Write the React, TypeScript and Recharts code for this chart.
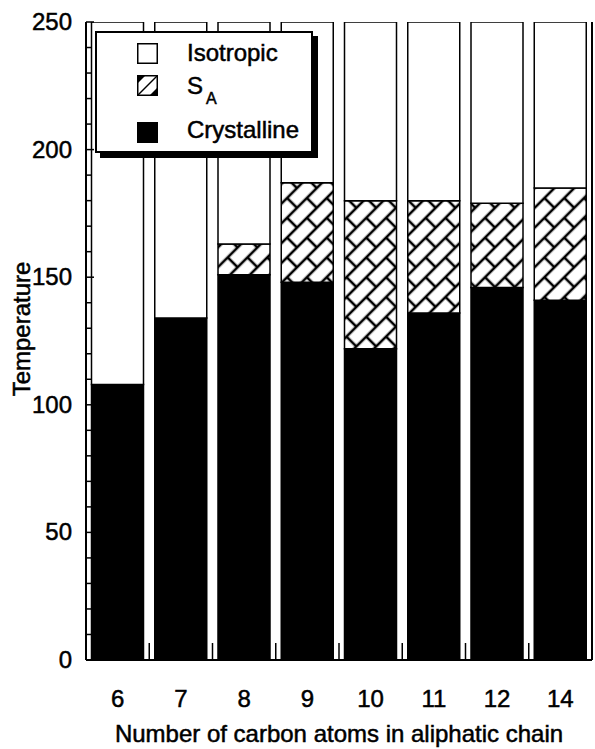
import React from 'react';
import { BarChart, Bar, XAxis, YAxis, Legend } from 'recharts';

// chain length (number of carbon atoms)
const carbons = ['6', '7', '8', '9', '10', '11', '12', '14'];
// melting point (crystalline -> SA or isotropic)
const crystalline = [108, 134, 151, 148, 122, 136, 146, 141];
// clearing point (SA -> isotropic)
const clearing = [108, 134, 163, 187, 180, 180, 179, 185];
const tempMax = 250;
const majorTicks = [0, 50, 100, 150, 200, 250];
const allTicks = [0, 10, 20, 30, 40, 50, 60, 70, 80, 90, 100, 110, 120, 130, 140, 150, 160, 170, 180, 190, 200, 210, 220, 230, 240, 250];

const data = carbons.map((c, i) => ({
  carbons: c,
  crystalline: crystalline[i],
  sa: clearing[i] - crystalline[i],
  iso: tempMax - clearing[i],
}));

const FONT = '"Liberation Sans", Arial, Helvetica, sans-serif';
const INK = '#000';
const FS = 24;

const LeftTick = (props: any) => {
  const { x, y, payload } = props;
  const major = majorTicks.includes(payload.value);
  return (
    <g>
      <line x1={x} x2={x + (major ? 8 : 5)} y1={y} y2={y} stroke={INK} strokeWidth={1.5} />
      {major && (
        <text x={x - 14} y={y} dy={8} textAnchor="end" fontSize={FS} fontFamily={FONT} fill={INK} stroke={INK} strokeWidth={0.5}>
          {payload.value}
        </text>
      )}
    </g>
  );
};

const RightTick = (props: any) => {
  const { x, y } = props;
  return <line x1={x} x2={x + 3} y1={y} y2={y} stroke={INK} strokeWidth={1.5} />;
};

const halfBand = (props: any) => {
  if (props.payload && typeof props.payload.offset === 'number' && props.payload.offset > 0) return props.payload.offset;
  return props.width / carbons.length / 2;
};

const BottomTick = (props: any) => {
  const { x, y, payload, index } = props;
  const h = halfBand(props);
  return (
    <g>
      {index < carbons.length - 1 && (
        <line x1={x + h} x2={x + h} y1={y} y2={y - 17} stroke={INK} strokeWidth={1.5} />
      )}
      <text x={x} y={y + 47} textAnchor="middle" fontSize={FS} fontFamily={FONT} fill={INK} stroke={INK} strokeWidth={0.5}>
        {payload.value}
      </text>
    </g>
  );
};

const TopTick = (props: any) => {
  const { x, y, index } = props;
  const h = halfBand(props);
  if (index >= carbons.length - 1) return <g />;
  return <line x1={x + h} x2={x + h} y1={y} y2={y + 15} stroke={INK} strokeWidth={2} />;
};

const YTitle = (props: any) => {
  const vb = props.viewBox || { y: 22, height: 638 };
  const cx = 21;
  const cy = vb.y + vb.height / 2 - 12;
  return (
    <text x={cx} y={cy} transform={`rotate(-90 ${cx} ${cy})`} textAnchor="middle" dominantBaseline="central"
      fontSize={FS} fontFamily={FONT} fill={INK} stroke={INK} strokeWidth={0.5}>
      Temperature
    </text>
  );
};

const LegendBox = () => {
  const row = {
    position: 'absolute' as const, left: 90, fontSize: FS, fontFamily: FONT, color: INK, lineHeight: '24px',
    WebkitTextStroke: '0.5px #000', whiteSpace: 'nowrap' as const,
  };
  const sq = { position: 'absolute' as const, left: 40, width: 21, height: 21 };
  return (
    <div style={{ position: 'relative', width: 214, height: 118, background: '#fff', border: '2px solid #000', boxShadow: '5px 5px 0 #000' }}>
      <svg style={{ ...sq, top: 10 }} width={21} height={21}>
        <rect x={0.75} y={0.75} width={19.5} height={19.5} fill="#fff" stroke={INK} strokeWidth={1.5} />
      </svg>
      <div style={{ ...row, top: 8 }}>Isotropic</div>
      <svg style={{ ...sq, top: 42 }} width={21} height={21}>
        <rect x={0.75} y={0.75} width={19.5} height={19.5} fill="#fff" stroke={INK} strokeWidth={1.5} />
        <line x1={1} y1={20} x2={20} y2={1} stroke={INK} strokeWidth={1.5} />
        <path d="M1 1 L8 1 L1 8 Z" fill={INK} />
        <path d="M20 20 L13 20 L20 13 Z" fill={INK} />
      </svg>
      <div style={{ ...row, top: 41 }}>
        S<span style={{ fontSize: 16, position: 'relative', top: 10, left: 3 }}>A</span>
      </div>
      <div style={{ ...sq, top: 89, background: INK }} />
      <div style={{ ...row, top: 85 }}>Crystalline</div>
    </div>
  );
};

export default function App() {
  return (
    <div style={{ position: 'absolute', left: 0, top: 0, background: '#fff' }}>
      <BarChart width={595} height={749} data={data} margin={{ top: 22, right: 0, bottom: 0, left: 0 }} barCategoryGap={5.5}>
        <defs>
          <pattern id="smectic" patternUnits="userSpaceOnUse" width={28} height={28} patternTransform="rotate(-45)">
            <rect width={28} height={28} fill="#fff" />
            <line x1={0} y1={7} x2={28} y2={7} stroke={INK} strokeWidth={2.6} />
            <line x1={0} y1={21} x2={28} y2={21} stroke={INK} strokeWidth={2.6} />
            <line x1={7} y1={7} x2={7} y2={21} stroke={INK} strokeWidth={2.6} />
            <line x1={21} y1={21} x2={21} y2={28} stroke={INK} strokeWidth={2.6} />
            <line x1={21} y1={0} x2={21} y2={7} stroke={INK} strokeWidth={2.6} />
          </pattern>
        </defs>
        <XAxis dataKey="carbons" xAxisId={0} orientation="bottom" height={89} tickSize={0} tickMargin={0}
          tickLine={false} axisLine={{ stroke: INK, strokeWidth: 2 }} tick={<BottomTick />} interval={0}
          label={{ value: 'Number of carbon atoms in aliphatic chain', position: 'insideBottom', offset: 7, fontSize: FS, fontFamily: FONT, fill: INK, stroke: INK, strokeWidth: 0.5 }} />
        <XAxis dataKey="carbons" xAxisId="top" orientation="top" height={0} tickSize={0} tickMargin={0}
          tickLine={false} axisLine={{ stroke: INK, strokeWidth: 2 }} tick={<TopTick />} interval={0} />
        <YAxis yAxisId={0} width={86} domain={[0, tempMax]} ticks={allTicks} interval={0} tickSize={0} tickMargin={0}
          tickLine={false} axisLine={{ stroke: INK, strokeWidth: 2 }} tick={<LeftTick />} allowDataOverflow
          label={{ content: <YTitle /> }} />
        <YAxis yAxisId="right" orientation="right" width={3} domain={[0, tempMax]} ticks={allTicks} interval={0}
          tickSize={0} tickMargin={0} tickLine={false} axisLine={{ stroke: INK, strokeWidth: 2 }} tick={<RightTick />} />
        <Legend layout="vertical" align="center" verticalAlign="middle" content={<LegendBox />}
          wrapperStyle={{ position: 'absolute', left: 95, top: 31, width: 'auto' }} />
        <Bar dataKey="crystalline" stackId="t" fill={INK} stroke={INK} strokeWidth={1.5} isAnimationActive={false} />
        <Bar dataKey="sa" stackId="t" fill="url(#smectic)" stroke={INK} strokeWidth={1.5} isAnimationActive={false} />
        <Bar dataKey="iso" stackId="t" fill="#fff" stroke={INK} strokeWidth={1.5} isAnimationActive={false} />
      </BarChart>
    </div>
  );
}
